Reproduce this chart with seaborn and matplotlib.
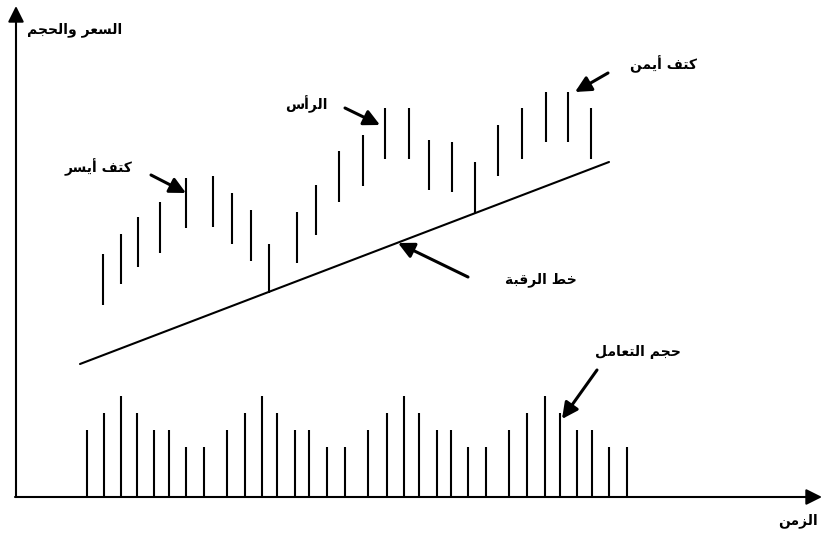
#!/usr/bin/env python3

import matplotlib
matplotlib.use("Agg")
import matplotlib.pyplot as plt
import seaborn as sns

# chart units: x = distance from the price axis, y = height above the time axis

# price bars of the head and shoulders pattern
price_time = [87, 105, 122, 144, 170, 197, 216, 235, 253, 281, 300, 323,
              347, 369, 393, 413, 436, 459, 482, 506, 530, 552, 575]
price_high = [243, 263, 280, 295, 319, 321, 304, 287, 253, 285, 312, 346,
              362, 389, 389, 357, 355, 335, 372, 389, 405, 405, 389]
price_low = [192, 213, 230, 244, 269, 270, 253, 236, 204, 234, 262, 295,
             311, 338, 338, 307, 305, 284, 321, 338, 355, 355, 338]

# neck line
neck_time = [64, 593]
neck_price = [133, 335]

# trading volume
volume_time = [71, 88, 105, 121, 138, 153, 170, 188,
               211, 229, 246, 261, 279, 293, 311, 329,
               352, 371, 388, 403, 421, 435, 452, 470,
               493, 511, 529, 544, 561, 576, 593, 611]
volume = [67, 84, 101, 84, 67, 67, 50, 50,
          67, 84, 101, 84, 67, 67, 50, 50,
          67, 84, 101, 84, 67, 67, 50, 50,
          67, 84, 101, 84, 67, 67, 50, 50]

# labels: text, label centre, arrow tail, arrow tip (None = no arrow)
labels = ["السعر والحجم", "كتف أيسر", "الرأس", "كتف أيمن", "خط الرقبة", "حجم التعامل", "الزمن"]
label_pos = [(59, 467), (82, 330), (290, 393), (647, 433), (525, 217), (622, 145), (782, -24)]
arrow_tail = [None, (135, 322), (329, 389), (592, 424), (452, 220), (581, 127), None]
arrow_tip = [None, (170, 304), (364, 372), (559, 405), (382, 254), (546, 78), None]

# Arabic presentation forms: isolated, final, initial, medial
FORMS = {
    "ا": ("\uFE8D", "\uFE8E", None, None),
    "أ": ("\uFE83", "\uFE84", None, None),
    "ب": ("\uFE8F", "\uFE90", "\uFE91", "\uFE92"),
    "ة": ("\uFE93", "\uFE94", None, None),
    "ت": ("\uFE95", "\uFE96", "\uFE97", "\uFE98"),
    "ج": ("\uFE9D", "\uFE9E", "\uFE9F", "\uFEA0"),
    "ح": ("\uFEA1", "\uFEA2", "\uFEA3", "\uFEA4"),
    "خ": ("\uFEA5", "\uFEA6", "\uFEA7", "\uFEA8"),
    "ر": ("\uFEAD", "\uFEAE", None, None),
    "ز": ("\uFEAF", "\uFEB0", None, None),
    "س": ("\uFEB1", "\uFEB2", "\uFEB3", "\uFEB4"),
    "ط": ("\uFEC1", "\uFEC2", "\uFEC3", "\uFEC4"),
    "ع": ("\uFEC9", "\uFECA", "\uFECB", "\uFECC"),
    "ف": ("\uFED1", "\uFED2", "\uFED3", "\uFED4"),
    "ق": ("\uFED5", "\uFED6", "\uFED7", "\uFED8"),
    "ك": ("\uFED9", "\uFEDA", "\uFEDB", "\uFEDC"),
    "ل": ("\uFEDD", "\uFEDE", "\uFEDF", "\uFEE0"),
    "م": ("\uFEE1", "\uFEE2", "\uFEE3", "\uFEE4"),
    "ن": ("\uFEE5", "\uFEE6", "\uFEE7", "\uFEE8"),
    "و": ("\uFEED", "\uFEEE", None, None),
    "ي": ("\uFEF1", "\uFEF2", "\uFEF3", "\uFEF4"),
}


def shape_arabic(text):
    """Join Arabic letters and put them in visual (left to right) order"""
    out = []
    for i, ch in enumerate(text):
        if ch not in FORMS:
            out.append(ch)
            continue
        prev = text[i - 1] if i > 0 else None
        nxt = text[i + 1] if i + 1 < len(text) else None
        join_prev = prev in FORMS and FORMS[prev][2] is not None
        join_next = nxt in FORMS and FORMS[ch][2] is not None
        iso, fin, ini, med = FORMS[ch]
        if join_prev and join_next:
            out.append(med)
        elif join_prev:
            out.append(fin)
        elif join_next:
            out.append(ini)
        else:
            out.append(iso)
    return "".join(reversed(out))


sns.set_theme(style="white")
plt.rcParams['font.family'] = ['DejaVu Sans']

fig = plt.figure(figsize=(8.22, 5.39), dpi=100)
ax = fig.add_axes([0, 0, 1, 1])
ax.set_xlim(-16, 806)
ax.set_ylim(-42, 497)
ax.set_axis_off()

lw = 1.5

# axes with arrow heads
ax.annotate("", xy=(0, 491), xytext=(0, 0),
            arrowprops=dict(arrowstyle="-|>", color="black", lw=lw,
                            mutation_scale=24, shrinkA=0, shrinkB=0))
ax.annotate("", xy=(806, 0), xytext=(-1, 0),
            arrowprops=dict(arrowstyle="-|>", color="black", lw=lw,
                            mutation_scale=24, shrinkA=0, shrinkB=0))

# price bars and volume bars
ax.vlines(price_time, price_low, price_high, color="black", lw=lw)
ax.vlines(volume_time, 0, volume, color="black", lw=lw)

# neck line
sns.lineplot(x=neck_time, y=neck_price, color="black", lw=lw, ax=ax)

for text, pos, tail, tip in zip(labels, label_pos, arrow_tail, arrow_tip):
    ax.text(pos[0], pos[1], shape_arabic(text), ha="center", va="center",
            fontsize=10, fontweight="bold", color="black")
    if tail is not None:
        ax.annotate("", xy=tip, xytext=tail,
                    arrowprops=dict(arrowstyle="-|>", color="black", lw=2.2,
                                    mutation_scale=24, shrinkA=0, shrinkB=0))

fig.savefig("out.png", dpi=100, facecolor="white")
plt.close(fig)
